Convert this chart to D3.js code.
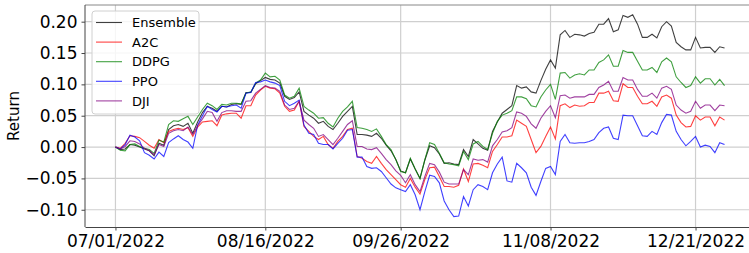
<!DOCTYPE html>
<html>
<head>
<meta charset="utf-8">
<script src="https://cdn.jsdelivr.net/npm/d3@7"></script>
<style>
    html, body { margin: 0; padding: 0; background: #fff; }
    svg { display: block; font-family: "DejaVu Sans", sans-serif; }
</style>
</head>
<body>
<svg id="chart"></svg>
<script>
// Trading-day index on x (0 = 07/01/2022)
const xTickIdx = [0, 31, 59, 90, 120];
const xTickLabels = ['07/01/2022', '08/16/2022', '09/26/2022', '11/08/2022', '12/21/2022'];
const yTicks = [-0.10, -0.05, 0.00, 0.05, 0.10, 0.15, 0.20];

const seriesNames = ['Ensemble', 'A2C', 'DDPG', 'PPO', 'DJI'];

const ensemble = [0, -0.004, -0.003, 0.004, 0.003, 0.000, -0.003, -0.006, -0.014, 0.006,
    0.003, 0.028, 0.034, 0.036, 0.033, 0.038, 0.022, 0.040, 0.055, 0.065,
    0.062, 0.057, 0.065, 0.064, 0.068, 0.069, 0.068, 0.087, 0.087, 0.101,
    0.106, 0.111, 0.108, 0.107, 0.102, 0.081, 0.076, 0.079, 0.088, 0.057,
    0.051, 0.046, 0.038, 0.041, 0.033, 0.028, 0.038, 0.049, 0.057, 0.065,
    0.020, 0.020, 0.019, 0.017, 0.022, 0.014, 0.003, -0.006, -0.020, -0.038,
    -0.041, -0.019, -0.035, -0.050, -0.021, 0.002, -0.001, -0.011, -0.026, -0.025,
    -0.027, -0.028, -0.004, -0.015, 0.012, 0.005, -0.002, -0.005, 0.025, 0.040,
    0.054, 0.060, 0.066, 0.098, 0.094, 0.096, 0.088, 0.086, 0.106, 0.124,
    0.139, 0.126, 0.179, 0.186, 0.175, 0.180, 0.179, 0.177, 0.181, 0.183,
    0.196, 0.196, 0.205, 0.184, 0.187, 0.210, 0.207, 0.211, 0.196, 0.175,
    0.175, 0.180, 0.174, 0.192, 0.200, 0.193, 0.167, 0.160, 0.155, 0.155,
    0.175, 0.158, 0.159, 0.159, 0.151, 0.160, 0.158];

const a2c = [0, -0.002, 0.006, 0.018, 0.017, 0.015, 0.009, 0.003, -0.002, 0.012,
    0.007, 0.025, 0.028, 0.030, 0.028, 0.031, 0.017, 0.032, 0.040, 0.041,
    0.042, 0.034, 0.051, 0.053, 0.054, 0.054, 0.046, 0.066, 0.066, 0.083,
    0.091, 0.097, 0.094, 0.093, 0.086, 0.065, 0.057, 0.059, 0.073, 0.033,
    0.025, 0.017, 0.012, 0.017, 0.004, -0.002, 0.009, 0.017, 0.028, 0.030,
    -0.015, -0.018, -0.023, -0.026, -0.015, -0.026, -0.036, -0.044, -0.052, -0.060,
    -0.064, -0.050, -0.064, -0.075, -0.052, -0.033, -0.032, -0.047, -0.063, -0.063,
    -0.064, -0.061, -0.035, -0.055, -0.027, -0.026, -0.029, -0.033, -0.007, 0.004,
    0.016, 0.016, 0.018, 0.043, 0.038, 0.033, 0.012, -0.009, 0.001, 0.017,
    0.032, 0.013, 0.066, 0.069, 0.063, 0.067, 0.065, 0.066, 0.071, 0.071,
    0.086, 0.086, 0.089, 0.074, 0.073, 0.101, 0.095, 0.095, 0.081, 0.069,
    0.069, 0.073, 0.065, 0.080, 0.083, 0.078, 0.051, 0.039, 0.032, 0.033,
    0.050, 0.043, 0.048, 0.048, 0.034, 0.048, 0.043];

const ddpg = [0, -0.005, -0.006, 0.004, 0.005, 0.001, -0.002, -0.004, -0.010, 0.011,
    0.008, 0.036, 0.042, 0.041, 0.045, 0.049, 0.036, 0.048, 0.060, 0.070,
    0.066, 0.060, 0.068, 0.067, 0.070, 0.070, 0.069, 0.086, 0.088, 0.102,
    0.107, 0.118, 0.112, 0.113, 0.107, 0.083, 0.078, 0.081, 0.094, 0.065,
    0.059, 0.054, 0.046, 0.047, 0.038, 0.032, 0.046, 0.057, 0.064, 0.073,
    0.031, 0.030, 0.028, 0.025, 0.029, 0.017, 0.004, -0.004, -0.020, -0.039,
    -0.041, -0.018, -0.035, -0.050, -0.020, 0.007, 0.004, -0.010, -0.025, -0.027,
    -0.028, -0.030, -0.007, -0.020, 0.005, 0.009, 0.001, -0.004, 0.022, 0.041,
    0.051, 0.054, 0.058, 0.080, 0.080, 0.077, 0.066, 0.064, 0.080, 0.091,
    0.100, 0.076, 0.118, 0.119, 0.110, 0.115, 0.117, 0.115, 0.123, 0.123,
    0.135, 0.139, 0.147, 0.129, 0.129, 0.154, 0.151, 0.151, 0.137, 0.123,
    0.123, 0.127, 0.119, 0.136, 0.142, 0.136, 0.112, 0.103, 0.095, 0.098,
    0.112, 0.102, 0.109, 0.109, 0.099, 0.108, 0.098];

const ppo = [0, -0.003, 0.004, 0.019, 0.016, 0.010, -0.009, -0.013, -0.019, -0.008,
    -0.015, 0.007, 0.013, 0.018, 0.012, 0.008, -0.002, 0.035, 0.050, 0.065,
    0.060, 0.056, 0.065, 0.064, 0.066, 0.067, 0.062, 0.086, 0.087, 0.103,
    0.104, 0.107, 0.104, 0.102, 0.098, 0.073, 0.066, 0.070, 0.075, 0.035,
    0.022, 0.020, 0.006, 0.004, 0.004, -0.003, 0.006, 0.014, 0.027, 0.028,
    -0.016, -0.016, -0.031, -0.034, -0.033, -0.039, -0.049, -0.059, -0.065, -0.068,
    -0.071, -0.060, -0.076, -0.100, -0.071, -0.045, -0.047, -0.057, -0.086, -0.100,
    -0.111, -0.110, -0.079, -0.094, -0.068, -0.060, -0.063, -0.068, -0.041, -0.027,
    -0.016, -0.054, -0.056, -0.026, -0.033, -0.041, -0.064, -0.077, -0.055, -0.034,
    -0.031, -0.044, 0.009, 0.020, 0.007, 0.006, 0.007, 0.007, 0.009, 0.012,
    0.023, 0.030, 0.032, 0.014, 0.012, 0.051, 0.050, 0.050, 0.034, 0.018,
    0.017, 0.025, 0.020, 0.039, 0.052, 0.051, 0.025, 0.012, 0.002, 0.009,
    0.017, 0.000, 0.003, 0.001, -0.009, 0.007, 0.004];

const dji = [0, -0.003, 0.001, 0.010, 0.009, 0.005, -0.002, -0.006, -0.012, 0.004,
    0.001, 0.022, 0.026, 0.028, 0.026, 0.032, 0.020, 0.034, 0.045, 0.057,
    0.055, 0.041, 0.055, 0.058, 0.058, 0.057, 0.057, 0.073, 0.074, 0.086,
    0.092, 0.098, 0.095, 0.094, 0.089, 0.067, 0.060, 0.062, 0.073, 0.043,
    0.036, 0.030, 0.017, 0.020, 0.012, 0.004, 0.014, 0.025, 0.036, 0.042,
    0.001, 0.001, -0.003, -0.004, -0.001, -0.010, -0.020, -0.028, -0.038, -0.045,
    -0.057, -0.044, -0.060, -0.071, -0.047, -0.026, -0.028, -0.040, -0.056, -0.059,
    -0.059, -0.059, -0.036, -0.044, -0.019, -0.021, -0.020, -0.024, 0.002, 0.012,
    0.024, 0.026, 0.031, 0.056, 0.054, 0.049, 0.037, 0.030, 0.046, 0.057,
    0.066, 0.047, 0.082, 0.083, 0.078, 0.080, 0.080, 0.080, 0.084, 0.084,
    0.095, 0.099, 0.105, 0.089, 0.089, 0.111, 0.107, 0.107, 0.092, 0.081,
    0.081, 0.086, 0.078, 0.094, 0.097, 0.092, 0.067, 0.059, 0.054, 0.057,
    0.073, 0.062, 0.067, 0.067, 0.058, 0.067, 0.066];

const seriesColors = ['#000000', '#ff0000', '#008000', '#0000ff', '#800080'];

class ReturnChart {
    constructor() {
        this.width = 749;
        this.height = 253;
        this.plot = { left: 85, top: 5, right: 755, bottom: 227 };
        const values = [ensemble, a2c, ddpg, ppo, dji];
        this.series = seriesNames.map((name, i) => ({
            name,
            values: values[i],
            color: seriesColors[i]
        }));
        this.draw();
    }

    draw() {
        const svg = d3.select('#chart')
            .attr('width', this.width)
            .attr('height', this.height);
        const p = this.plot;

        // matplotlib-like 5% margins around the data
        const x = d3.scaleLinear().domain([-6.3, 132.3]).range([p.left, p.right]);
        const y = d3.scaleLinear().domain([-0.1275, 0.2266]).range([p.bottom, p.top]);

        svg.append('defs').append('clipPath').attr('id', 'clip')
            .append('rect')
            .attr('x', p.left).attr('y', p.top)
            .attr('width', p.right - p.left).attr('height', p.bottom - p.top);

        // Grid
        const grid = svg.append('g').attr('stroke', '#cfcfcf').attr('stroke-width', 1.2);
        grid.selectAll('.hg').data(yTicks).enter().append('line')
            .attr('x1', p.left).attr('x2', p.right)
            .attr('y1', d => y(d)).attr('y2', d => y(d));
        grid.selectAll('.vg').data(xTickIdx).enter().append('line')
            .attr('x1', d => x(d)).attr('x2', d => x(d))
            .attr('y1', p.top).attr('y2', p.bottom);

        // Lines
        const line = d3.line()
            .x((d, i) => x(i))
            .y(d => y(d));
        svg.append('g').attr('clip-path', 'url(#clip)')
            .selectAll('path')
            .data(this.series)
            .enter()
            .append('path')
            .attr('fill', 'none')
            .attr('stroke', d => d.color)
            .attr('stroke-opacity', 0.75)
            .attr('stroke-width', 1.1)
            .attr('d', d => line(d.values));

        // Spines
        svg.append('line').attr('x1', p.left).attr('x2', p.right)
            .attr('y1', p.top).attr('y2', p.top).attr('stroke', '#888');
        svg.append('line').attr('x1', p.left).attr('x2', p.left)
            .attr('y1', p.top).attr('y2', p.bottom).attr('stroke', '#444');

        // Axes
        const xAxis = svg.append('g')
            .attr('transform', `translate(0,${p.bottom})`)
            .call(d3.axisBottom(x)
                .tickValues(xTickIdx)
                .tickFormat((d, i) => xTickLabels[i])
                .tickSize(3.5)
                .tickPadding(4.5)
                .tickSizeOuter(0));
        const yAxis = svg.append('g')
            .attr('transform', `translate(${p.left},0)`)
            .call(d3.axisLeft(y)
                .tickValues(yTicks)
                .tickFormat(d3.format('.2f'))
                .tickSize(3.5)
                .tickPadding(4)
                .tickSizeOuter(0));

        [xAxis, yAxis].forEach(a => {
            a.selectAll('text')
                .attr('font-family', '"DejaVu Sans", sans-serif')
                .attr('font-size', 17)
                .attr('fill', '#000');
            a.selectAll('line').attr('stroke', '#444');
        });
        xAxis.select('.domain').attr('stroke', '#444');
        yAxis.select('.domain').remove();

        svg.append('text')
            .attr('transform', 'translate(19,116) rotate(-90)')
            .attr('text-anchor', 'middle')
            .attr('font-size', 15)
            .attr('fill', '#000')
            .text('Return');

        this.drawLegend(svg);
    }

    drawLegend(svg) {
        const lg = svg.append('g').attr('transform', 'translate(92,11)');
        lg.append('rect')
            .attr('width', 107).attr('height', 103)
            .attr('rx', 3)
            .attr('fill', '#fff').attr('fill-opacity', 0.8)
            .attr('stroke', '#d0d0d0');

        const rows = lg.selectAll('.row')
            .data(this.series)
            .enter()
            .append('g')
            .attr('transform', (d, i) => `translate(0,${11.5 + i * 19.6})`);
        rows.append('line')
            .attr('x1', 4).attr('x2', 30)
            .attr('stroke', d => d.color)
            .attr('stroke-opacity', 0.75)
            .attr('stroke-width', 1.1);
        rows.append('text')
            .attr('x', 40)
            .attr('dy', '0.36em')
            .attr('font-size', 13)
            .attr('fill', '#000')
            .text(d => d.name);
    }
}

document.addEventListener('DOMContentLoaded', () => {
    new ReturnChart();
});
</script>
</body>
</html>
